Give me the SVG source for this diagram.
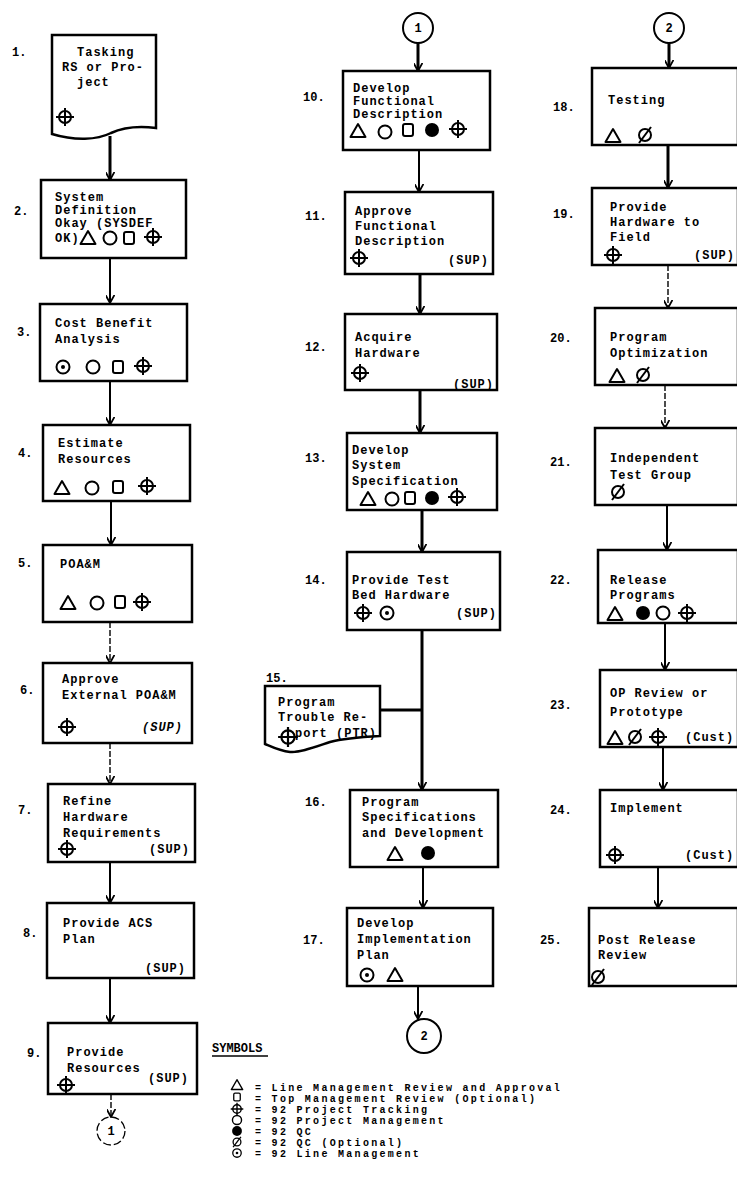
<svg xmlns="http://www.w3.org/2000/svg" xmlns:xlink="http://www.w3.org/1999/xlink" width="737" height="1195" viewBox="0 0 737 1195">
<style>
.bx{fill:#fff;stroke:#000;stroke-width:2.5}
.t{font-family:"Liberation Mono","DejaVu Sans Mono",monospace;font-weight:bold;font-size:12px;letter-spacing:1px;fill:#000}
.n{font-family:"Liberation Mono","DejaVu Sans Mono",monospace;font-weight:bold;font-size:12px;fill:#000}
.lg{font-family:"Liberation Mono","DejaVu Sans Mono",monospace;font-weight:bold;font-size:10px;letter-spacing:2.3px;fill:#000}
.it{font-style:italic}
.c{fill:none;stroke:#000;stroke-width:2;marker-end:url(#ah)}
.ck{fill:none;stroke:#000;stroke-width:3;marker-end:url(#ah)}
.cf{fill:none;stroke:#000;stroke-width:1.4;stroke-dasharray:6 2;marker-end:url(#ah)}
.sym{fill:none;stroke:#000;stroke-width:2}
.fc{fill:#fff;stroke:#000;stroke-width:2}
</style>
<defs>
<marker id="ah" viewBox="0 0 10 10" refX="9" refY="5" markerWidth="9" markerHeight="9" markerUnits="userSpaceOnUse" orient="auto">
<path d="M0,0 L9,5 L0,10" fill="none" stroke="#000" stroke-width="2"/>
</marker>
<g id="s-tri"><polygon points="0,-7 7.5,6 -7.5,6" class="sym" stroke-linejoin="round"/></g>
<g id="s-circ"><circle r="6.5" class="sym"/></g>
<g id="s-sq"><rect x="-5" y="-6" width="10" height="12" rx="2" class="sym"/></g>
<g id="s-qc"><circle r="7" fill="#000"/></g>
<g id="s-trk"><circle r="6" class="sym"/><path d="M-9,0 H9 M0,-9 V9" stroke="#000" stroke-width="2"/></g>
<g id="s-opt"><circle r="6" class="sym"/><path d="M-6,8 L6,-8" stroke="#000" stroke-width="2"/></g>
<g id="s-lm"><circle r="6.5" class="sym"/><circle r="2" fill="#000"/></g>
</defs>

<g id="connectors">
<path class="ck" d="M110,136 V180"/>
<path class="c" d="M110,258 V303"/>
<path class="c" d="M110,381 V425"/>
<path class="c" d="M111,501 V545"/>
<path class="cf" d="M110,622 V663"/>
<path class="cf" d="M110,743 V784"/>
<path class="c" d="M110,862 V903"/>
<path class="c" d="M110,978 V1023"/>
<path class="cf" d="M111,1094 V1117"/>
<path class="ck" d="M418,43 V71"/>
<path class="c" d="M419,150 V192"/>
<path class="ck" d="M420,274 V314"/>
<path class="ck" d="M420,390 V433"/>
<path class="ck" d="M422,510 V552"/>
<path class="ck" d="M422,630 V790"/>
<path d="M380,710 H422" fill="none" stroke="#000" stroke-width="3"/>
<path class="c" d="M423,867 V908"/>
<path class="c" d="M418,986 V1019"/>
<path class="ck" d="M669,43 V68"/>
<path class="ck" d="M668,145 V188"/>
<path class="cf" d="M668,265 V308"/>
<path class="cf" d="M665,385 V428"/>
<path class="c" d="M667,505 V550"/>
<path class="c" d="M665,623 V670"/>
<path class="c" d="M663,747 V790"/>
<path class="c" d="M658,867 V908"/>
</g>

<!-- Left column -->
<g id="n1">
<path class="bx" d="M52,35 H156 V128 C140,126 124,127 111,133 C97,140 75,141 52,134 Z"/>
<text class="n" x="12" y="56">1.</text>
<text class="t" x="77" y="56">Tasking</text>
<text class="t" x="62" y="71">RS or Pro-</text>
<text class="t" x="77" y="86">ject</text>
<use xlink:href="#s-trk" x="65" y="117"/>
</g>
<g id="n2">
<rect class="bx" x="41" y="180" width="145" height="78"/>
<text class="n" x="14" y="215">2.</text>
<text class="t" x="55" y="201">System</text>
<text class="t" x="55" y="214">Definition</text>
<text class="t" x="55" y="227">Okay (SYSDEF</text>
<text class="t" x="55" y="242">OK)</text>
<use xlink:href="#s-tri" x="88" y="238"/>
<use xlink:href="#s-circ" x="110" y="238"/>
<use xlink:href="#s-sq" x="129" y="238"/>
<use xlink:href="#s-trk" x="153" y="237"/>
</g>
<g id="n3">
<rect class="bx" x="40" y="304" width="147" height="77"/>
<text class="n" x="17" y="336">3.</text>
<text class="t" x="55" y="327">Cost Benefit</text>
<text class="t" x="55" y="343">Analysis</text>
<use xlink:href="#s-lm" x="63" y="367"/>
<use xlink:href="#s-circ" x="93" y="367"/>
<use xlink:href="#s-sq" x="118" y="367"/>
<use xlink:href="#s-trk" x="143" y="366"/>
</g>
<g id="n4">
<rect class="bx" x="43" y="425" width="147" height="76"/>
<text class="n" x="18" y="457">4.</text>
<text class="t" x="58" y="447">Estimate</text>
<text class="t" x="58" y="463">Resources</text>
<use xlink:href="#s-tri" x="62" y="488"/>
<use xlink:href="#s-circ" x="92" y="488"/>
<use xlink:href="#s-sq" x="118" y="487"/>
<use xlink:href="#s-trk" x="147" y="486"/>
</g>
<g id="n5">
<rect class="bx" x="43" y="545" width="149" height="77"/>
<text class="n" x="18" y="567">5.</text>
<text class="t" x="60" y="568">POA&amp;M</text>
<use xlink:href="#s-tri" x="68" y="603"/>
<use xlink:href="#s-circ" x="97" y="603"/>
<use xlink:href="#s-sq" x="120" y="602"/>
<use xlink:href="#s-trk" x="142" y="602"/>
</g>
<g id="n6">
<rect class="bx" x="43" y="663" width="149" height="80"/>
<text class="n" x="20" y="694">6.</text>
<text class="t" x="62" y="683">Approve</text>
<text class="t" x="62" y="699">External POA&amp;M</text>
<use xlink:href="#s-trk" x="67" y="727"/>
<text class="t it" x="183" y="731" text-anchor="end">(SUP)</text>
</g>
<g id="n7">
<rect class="bx" x="48" y="784" width="147" height="78"/>
<text class="n" x="18" y="814">7.</text>
<text class="t" x="63" y="805">Refine</text>
<text class="t" x="63" y="821">Hardware</text>
<text class="t" x="63" y="837">Requirements</text>
<use xlink:href="#s-trk" x="67" y="849"/>
<text class="t" x="190" y="853" text-anchor="end">(SUP)</text>
</g>
<g id="n8">
<rect class="bx" x="47" y="903" width="147" height="75"/>
<text class="n" x="23" y="937">8.</text>
<text class="t" x="63" y="927">Provide ACS</text>
<text class="t" x="63" y="943">Plan</text>
<text class="t" x="186" y="972" text-anchor="end">(SUP)</text>
</g>
<g id="n9">
<rect class="bx" x="48" y="1023" width="149" height="71"/>
<text class="n" x="27" y="1057">9.</text>
<text class="t" x="67" y="1056">Provide</text>
<text class="t" x="67" y="1072">Resources</text>
<use xlink:href="#s-trk" x="66" y="1085"/>
<text class="t" x="189" y="1082" text-anchor="end">(SUP)</text>
</g>
<g id="c1b">
<circle cx="111" cy="1131" r="14" fill="none" stroke="#000" stroke-width="1.3" stroke-dasharray="8 3"/>
<text class="n" x="111" y="1135" text-anchor="middle" font-size="9">1</text>
</g>

<!-- Middle column -->
<g id="c1t">
<circle cx="418" cy="28" r="15" class="fc"/>
<text class="n" x="418" y="32" text-anchor="middle">1</text>
</g>
<g id="n10">
<rect class="bx" x="343" y="71" width="147" height="79"/>
<text class="n" x="303" y="101">10.</text>
<text class="t" x="353" y="92">Develop</text>
<text class="t" x="353" y="105">Functional</text>
<text class="t" x="353" y="118">Description</text>
<use xlink:href="#s-tri" x="358" y="131"/>
<use xlink:href="#s-circ" x="385" y="132"/>
<use xlink:href="#s-sq" x="408" y="130"/>
<use xlink:href="#s-qc" x="432" y="130"/>
<use xlink:href="#s-trk" x="458" y="129"/>
</g>
<g id="n11">
<rect class="bx" x="345" y="192" width="148" height="82"/>
<text class="n" x="305" y="220">11.</text>
<text class="t" x="355" y="215">Approve</text>
<text class="t" x="355" y="230">Functional</text>
<text class="t" x="355" y="245">Description</text>
<use xlink:href="#s-trk" x="359" y="258"/>
<text class="t" x="489" y="264" text-anchor="end">(SUP)</text>
</g>
<g id="n12">
<rect class="bx" x="345" y="314" width="152" height="76"/>
<text class="n" x="305" y="351">12.</text>
<text class="t" x="355" y="341">Acquire</text>
<text class="t" x="355" y="357">Hardware</text>
<use xlink:href="#s-trk" x="360" y="373"/>
<text class="t" x="494" y="388" text-anchor="end">(SUP)</text>
</g>
<g id="n13">
<rect class="bx" x="347" y="433" width="150" height="77"/>
<text class="n" x="305" y="462">13.</text>
<text class="t" x="352" y="454">Develop</text>
<text class="t" x="352" y="469">System</text>
<text class="t" x="352" y="485">Specification</text>
<use xlink:href="#s-tri" x="368" y="499"/>
<use xlink:href="#s-circ" x="392" y="499"/>
<use xlink:href="#s-sq" x="410" y="498"/>
<use xlink:href="#s-qc" x="432" y="498"/>
<use xlink:href="#s-trk" x="457" y="497"/>
</g>
<g id="n14">
<rect class="bx" x="347" y="552" width="153" height="78"/>
<text class="n" x="305" y="584">14.</text>
<text class="t" x="352" y="584">Provide Test</text>
<text class="t" x="352" y="599">Bed Hardware</text>
<use xlink:href="#s-trk" x="363" y="613"/>
<use xlink:href="#s-lm" x="387" y="613"/>
<text class="t" x="497" y="617" text-anchor="end">(SUP)</text>
</g>
<g id="n15">
<text class="n" x="266" y="682">15.</text>
<path class="bx" d="M265,686 H380 V736 C362,737 345,738 330,742 C315,747 300,753 290,752 C280,751 272,747 265,744 Z"/>
<text class="t" x="278" y="706">Program</text>
<text class="t" x="278" y="721">Trouble Re-</text>
<text class="t" x="295" y="737">port (PTR)</text>
<use xlink:href="#s-trk" transform="translate(288 737) scale(1.1)"/>
</g>
<g id="n16">
<rect class="bx" x="350" y="790" width="148" height="77"/>
<text class="n" x="305" y="806">16.</text>
<text class="t" x="362" y="806">Program</text>
<text class="t" x="362" y="821">Specifications</text>
<text class="t" x="362" y="837">and Development</text>
<use xlink:href="#s-tri" x="395" y="854"/>
<use xlink:href="#s-qc" x="428" y="853"/>
</g>
<g id="n17">
<rect class="bx" x="347" y="908" width="146" height="78"/>
<text class="n" x="303" y="944">17.</text>
<text class="t" x="357" y="927">Develop</text>
<text class="t" x="357" y="943">Implementation</text>
<text class="t" x="357" y="959">Plan</text>
<use xlink:href="#s-lm" x="367" y="975"/>
<use xlink:href="#s-tri" x="395" y="975"/>
</g>
<g id="c2b">
<circle cx="424" cy="1036" r="17" class="fc"/>
<text class="n" x="424" y="1040" text-anchor="middle">2</text>
</g>

<!-- Right column -->
<g id="c2t">
<circle cx="669" cy="28" r="15" class="fc"/>
<text class="n" x="669" y="32" text-anchor="middle">2</text>
</g>
<g id="n18">
<rect class="bx" x="592" y="68" width="146" height="77"/>
<text class="n" x="553" y="111">18.</text>
<text class="t" x="608" y="104">Testing</text>
<use xlink:href="#s-tri" x="613" y="136"/>
<use xlink:href="#s-opt" x="645" y="135"/>
</g>
<g id="n19">
<rect class="bx" x="592" y="188" width="146" height="77"/>
<text class="n" x="553" y="218">19.</text>
<text class="t" x="610" y="211">Provide</text>
<text class="t" x="610" y="226">Hardware to</text>
<text class="t" x="610" y="241">Field</text>
<use xlink:href="#s-trk" x="613" y="255"/>
<text class="t" x="694" y="259" letter-spacing="0">(SUP)</text>
</g>
<g id="n20">
<rect class="bx" x="595" y="308" width="143" height="77"/>
<text class="n" x="550" y="342">20.</text>
<text class="t" x="610" y="341">Program</text>
<text class="t" x="610" y="357">Optimization</text>
<use xlink:href="#s-tri" x="617" y="376"/>
<use xlink:href="#s-opt" x="643" y="375"/>
</g>
<g id="n21">
<rect class="bx" x="595" y="428" width="143" height="77"/>
<text class="n" x="550" y="466">21.</text>
<text class="t" x="610" y="462">Independent</text>
<text class="t" x="610" y="479">Test Group</text>
<use xlink:href="#s-opt" x="618" y="492"/>
</g>
<g id="n22">
<rect class="bx" x="598" y="550" width="140" height="73"/>
<text class="n" x="550" y="584">22.</text>
<text class="t" x="610" y="584">Release</text>
<text class="t" x="610" y="599">Programs</text>
<use xlink:href="#s-tri" x="615" y="614"/>
<use xlink:href="#s-qc" x="643" y="613"/>
<use xlink:href="#s-circ" x="663" y="613"/>
<use xlink:href="#s-trk" x="687" y="613"/>
</g>
<g id="n23">
<rect class="bx" x="600" y="670" width="138" height="77"/>
<text class="n" x="550" y="709">23.</text>
<text class="t" x="610" y="697">OP Review or</text>
<text class="t" x="610" y="716">Prototype</text>
<use xlink:href="#s-tri" x="615" y="738"/>
<use xlink:href="#s-opt" x="635" y="737"/>
<use xlink:href="#s-trk" x="658" y="737"/>
<text class="t" x="685" y="741">(Cust)</text>
</g>
<g id="n24">
<rect class="bx" x="600" y="790" width="138" height="77"/>
<text class="n" x="550" y="814">24.</text>
<text class="t" x="610" y="812">Implement</text>
<use xlink:href="#s-trk" x="615" y="855"/>
<text class="t" x="685" y="859">(Cust)</text>
</g>
<g id="n25">
<rect class="bx" x="589" y="908" width="149" height="78"/>
<text class="n" x="540" y="944">25.</text>
<text class="t" x="598" y="944">Post Release</text>
<text class="t" x="598" y="959">Review</text>
<use xlink:href="#s-opt" x="598" y="977"/>
</g>

<!-- Legend -->
<g id="legend">
<text class="n" x="212" y="1052" font-size="11">SYMBOLS</text>
<path d="M212,1056 H268" stroke="#000" stroke-width="1.5"/>
<use xlink:href="#s-tri" transform="translate(237 1085) scale(0.75)"/>
<text class="lg" x="255" y="1091">= Line Management Review and Approval</text>
<use xlink:href="#s-sq" transform="translate(237 1097) scale(0.65)"/>
<text class="lg" x="255" y="1102">= Top Management Review (Optional)</text>
<use xlink:href="#s-trk" transform="translate(237 1109) scale(0.7)"/>
<text class="lg" x="255" y="1113">= 92 Project Tracking</text>
<use xlink:href="#s-circ" transform="translate(237 1120) scale(0.7)"/>
<text class="lg" x="255" y="1124">= 92 Project Management</text>
<use xlink:href="#s-qc" transform="translate(237 1131) scale(0.7)"/>
<text class="lg" x="255" y="1135">= 92 QC</text>
<use xlink:href="#s-opt" transform="translate(237 1142) scale(0.65)"/>
<text class="lg" x="255" y="1146">= 92 QC (Optional)</text>
<use xlink:href="#s-lm" transform="translate(237 1153) scale(0.65)"/>
<text class="lg" x="255" y="1157">= 92 Line Management</text>
</g>
</svg>
